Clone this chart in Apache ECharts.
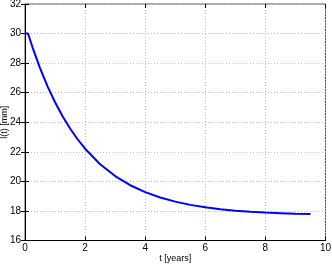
<!DOCTYPE html>
<html>
<head>
<meta charset="utf-8">
<script src="https://cdn.jsdelivr.net/npm/echarts@6/dist/echarts.min.js"></script>
<style>
html,body{margin:0;padding:0;background:#fff;}
#c{width:332px;height:264px;}
</style>
</head>
<body>
<div id="c"></div>
<script>
var tValues = [0, 0.1, 0.25, 0.5, 0.75, 1, 1.25, 1.5, 1.75, 2, 2.5, 3, 3.5, 4, 4.5, 5, 5.5, 6, 6.5, 7, 7.5, 8, 8.5, 9, 9.5];
var lValues = [30, 30, 29.07, 27.66, 26.43, 25.35, 24.40, 23.58, 22.85, 22.21, 21.16, 20.36, 19.74, 19.27, 18.91, 18.63, 18.41, 18.25, 18.12, 18.02, 17.95, 17.89, 17.85, 17.81, 17.79];
var xTicks = [0, 2, 4, 6, 8, 10];
var yTicks = [16, 18, 20, 22, 24, 26, 28, 30, 32];
var xLabel = 't [years]';
var yLabel = 'l(t) [mm]';

var font = 'Liberation Sans, Arial, sans-serif';
var chart = echarts.init(document.getElementById('c'));
var pts = tValues.map(function (t, i) { return [t, lValues[i]]; });
var gridLine = { show: true, lineStyle: { color: '#bfbfbf', type: [1, 2], width: 1 } };
chart.setOption({
  animation: false,
  grid: { left: 25, right: 6.5, top: 4, bottom: 23.5, containLabel: false, outerBoundsMode: 'none',
          show: true, borderColor: '#555', borderWidth: 1 },
  xAxis: [{
    type: 'value', min: xTicks[0], max: xTicks[xTicks.length - 1], interval: 2,
    name: xLabel, nameLocation: 'middle', nameGap: 13.5, nameMoveOverlap: false,
    nameTextStyle: { fontFamily: font, fontSize: 9, color: '#000' },
    axisLine: { show: true, lineStyle: { color: '#000', width: 1 } },
    axisTick: { show: true, inside: true, length: 4, lineStyle: { color: '#000' } },
    axisLabel: { fontFamily: font, fontSize: 10, color: '#000', margin: 3 },
    splitLine: gridLine
  }, {
    type: 'value', position: 'top', min: xTicks[0], max: xTicks[xTicks.length - 1], interval: 2,
    axisLine: { show: false },
    axisTick: { show: true, inside: true, length: 4, lineStyle: { color: '#000' } },
    axisLabel: { show: false }, splitLine: { show: false }
  }],
  yAxis: [{
    type: 'value', min: yTicks[0], max: yTicks[yTicks.length - 1], interval: 2,
    name: yLabel, nameLocation: 'middle', nameGap: 16, nameRotate: 90, nameMoveOverlap: false,
    nameTextStyle: { fontFamily: font, fontSize: 9, color: '#000' },
    axisLine: { show: true, lineStyle: { color: '#000', width: 1 } },
    axisTick: { show: true, inside: true, length: 4, lineStyle: { color: '#000' } },
    axisLabel: { fontFamily: font, fontSize: 10, color: '#000', margin: 4 },
    splitLine: gridLine
  }, {
    type: 'value', position: 'right', min: yTicks[0], max: yTicks[yTicks.length - 1], interval: 2,
    axisLine: { show: false },
    axisTick: { show: true, inside: true, length: 4, lineStyle: { color: '#000' } },
    axisLabel: { show: false }, splitLine: { show: false }
  }],
  series: [{
    type: 'line', data: pts, smooth: false, showSymbol: false,
    lineStyle: { color: '#0000ff', width: 2 }
  }]
});
</script>
</body>
</html>
